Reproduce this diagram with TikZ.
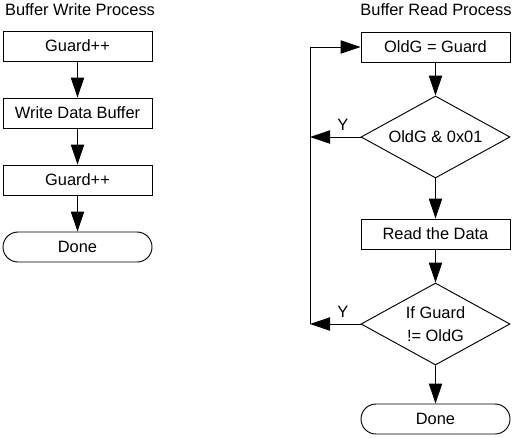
\documentclass[tikz,border=0pt]{standalone}
\usepackage{fontspec}
\setmainfont{Liberation Sans}
\usetikzlibrary{arrows.meta,shapes.geometric,shapes.misc}

\tikzset{
    procbox/.style={draw, line width=0.8pt, minimum width=4.47cm, minimum height=0.9cm, inner sep=0pt},
    testbox/.style={draw, diamond, aspect=1.8, line width=0.8pt, minimum width=4.47cm, minimum height=2.46cm, inner sep=0pt, align=center},
    endbox/.style={draw, rounded rectangle, line width=0.8pt, minimum width=4.47cm, minimum height=0.9cm, inner sep=0pt},
    flow/.style={-{Triangle[length=6mm,width=4mm]}, line width=0.8pt},
}

\begin{document}
\begin{tikzpicture}[x=0.03cm, y=-0.03cm, font=\fontsize{14}{19}\selectfont]
    \useasboundingbox (0,0) rectangle (513,437);

    % write side
    \node (wtitle) [anchor=west] at (1,10) {Buffer Write Process};
    \node (wg1) [procbox] at (77.5,46) {Guard++};
    \node (wdata) [procbox] at (77.5,113) {Write Data Buffer};
    \node (wg2) [procbox] at (77.5,180) {Guard++};
    \node (wdone) [endbox] at (77.5,247) {Done};
    \draw[flow] (wg1) -- (wdata);
    \draw[flow] (wdata) -- (wg2);
    \draw[flow] (wg2) -- (wdone);

    % read side
    \node (rtitle) at (436,10) {Buffer Read Process};
    \node (rold) [procbox] at (435.5,47) {OldG = Guard};
    \node (rodd) [testbox] at (435.5,137) {OldG \& 0x01};
    \node (rdata) [procbox] at (435.5,234) {Read the Data};
    \node (rchk) [testbox] at (435.5,324) {If Guard\\!= OldG};
    \node (rdone) [endbox] at (435.5,419) {Done};
    \draw[flow] (rold) -- (rodd);
    \draw[flow] (rodd) -- (rdata);
    \draw[flow] (rdata) -- (rchk);
    \draw[flow] (rchk) -- (rdone);

    % retry loop
    \coordinate (loopa) at (310,137);
    \coordinate (loopb) at (310,324);
    \draw[flow] (rodd.west) -- (loopa) node (ya) [pos=0.35, above=2pt] {Y};
    \draw[flow] (rchk.west) -- (loopb) node (yb) [pos=0.35, above=2pt] {Y};
    \draw[flow] (loopb) |- (rold.west);
\end{tikzpicture}
\end{document}
